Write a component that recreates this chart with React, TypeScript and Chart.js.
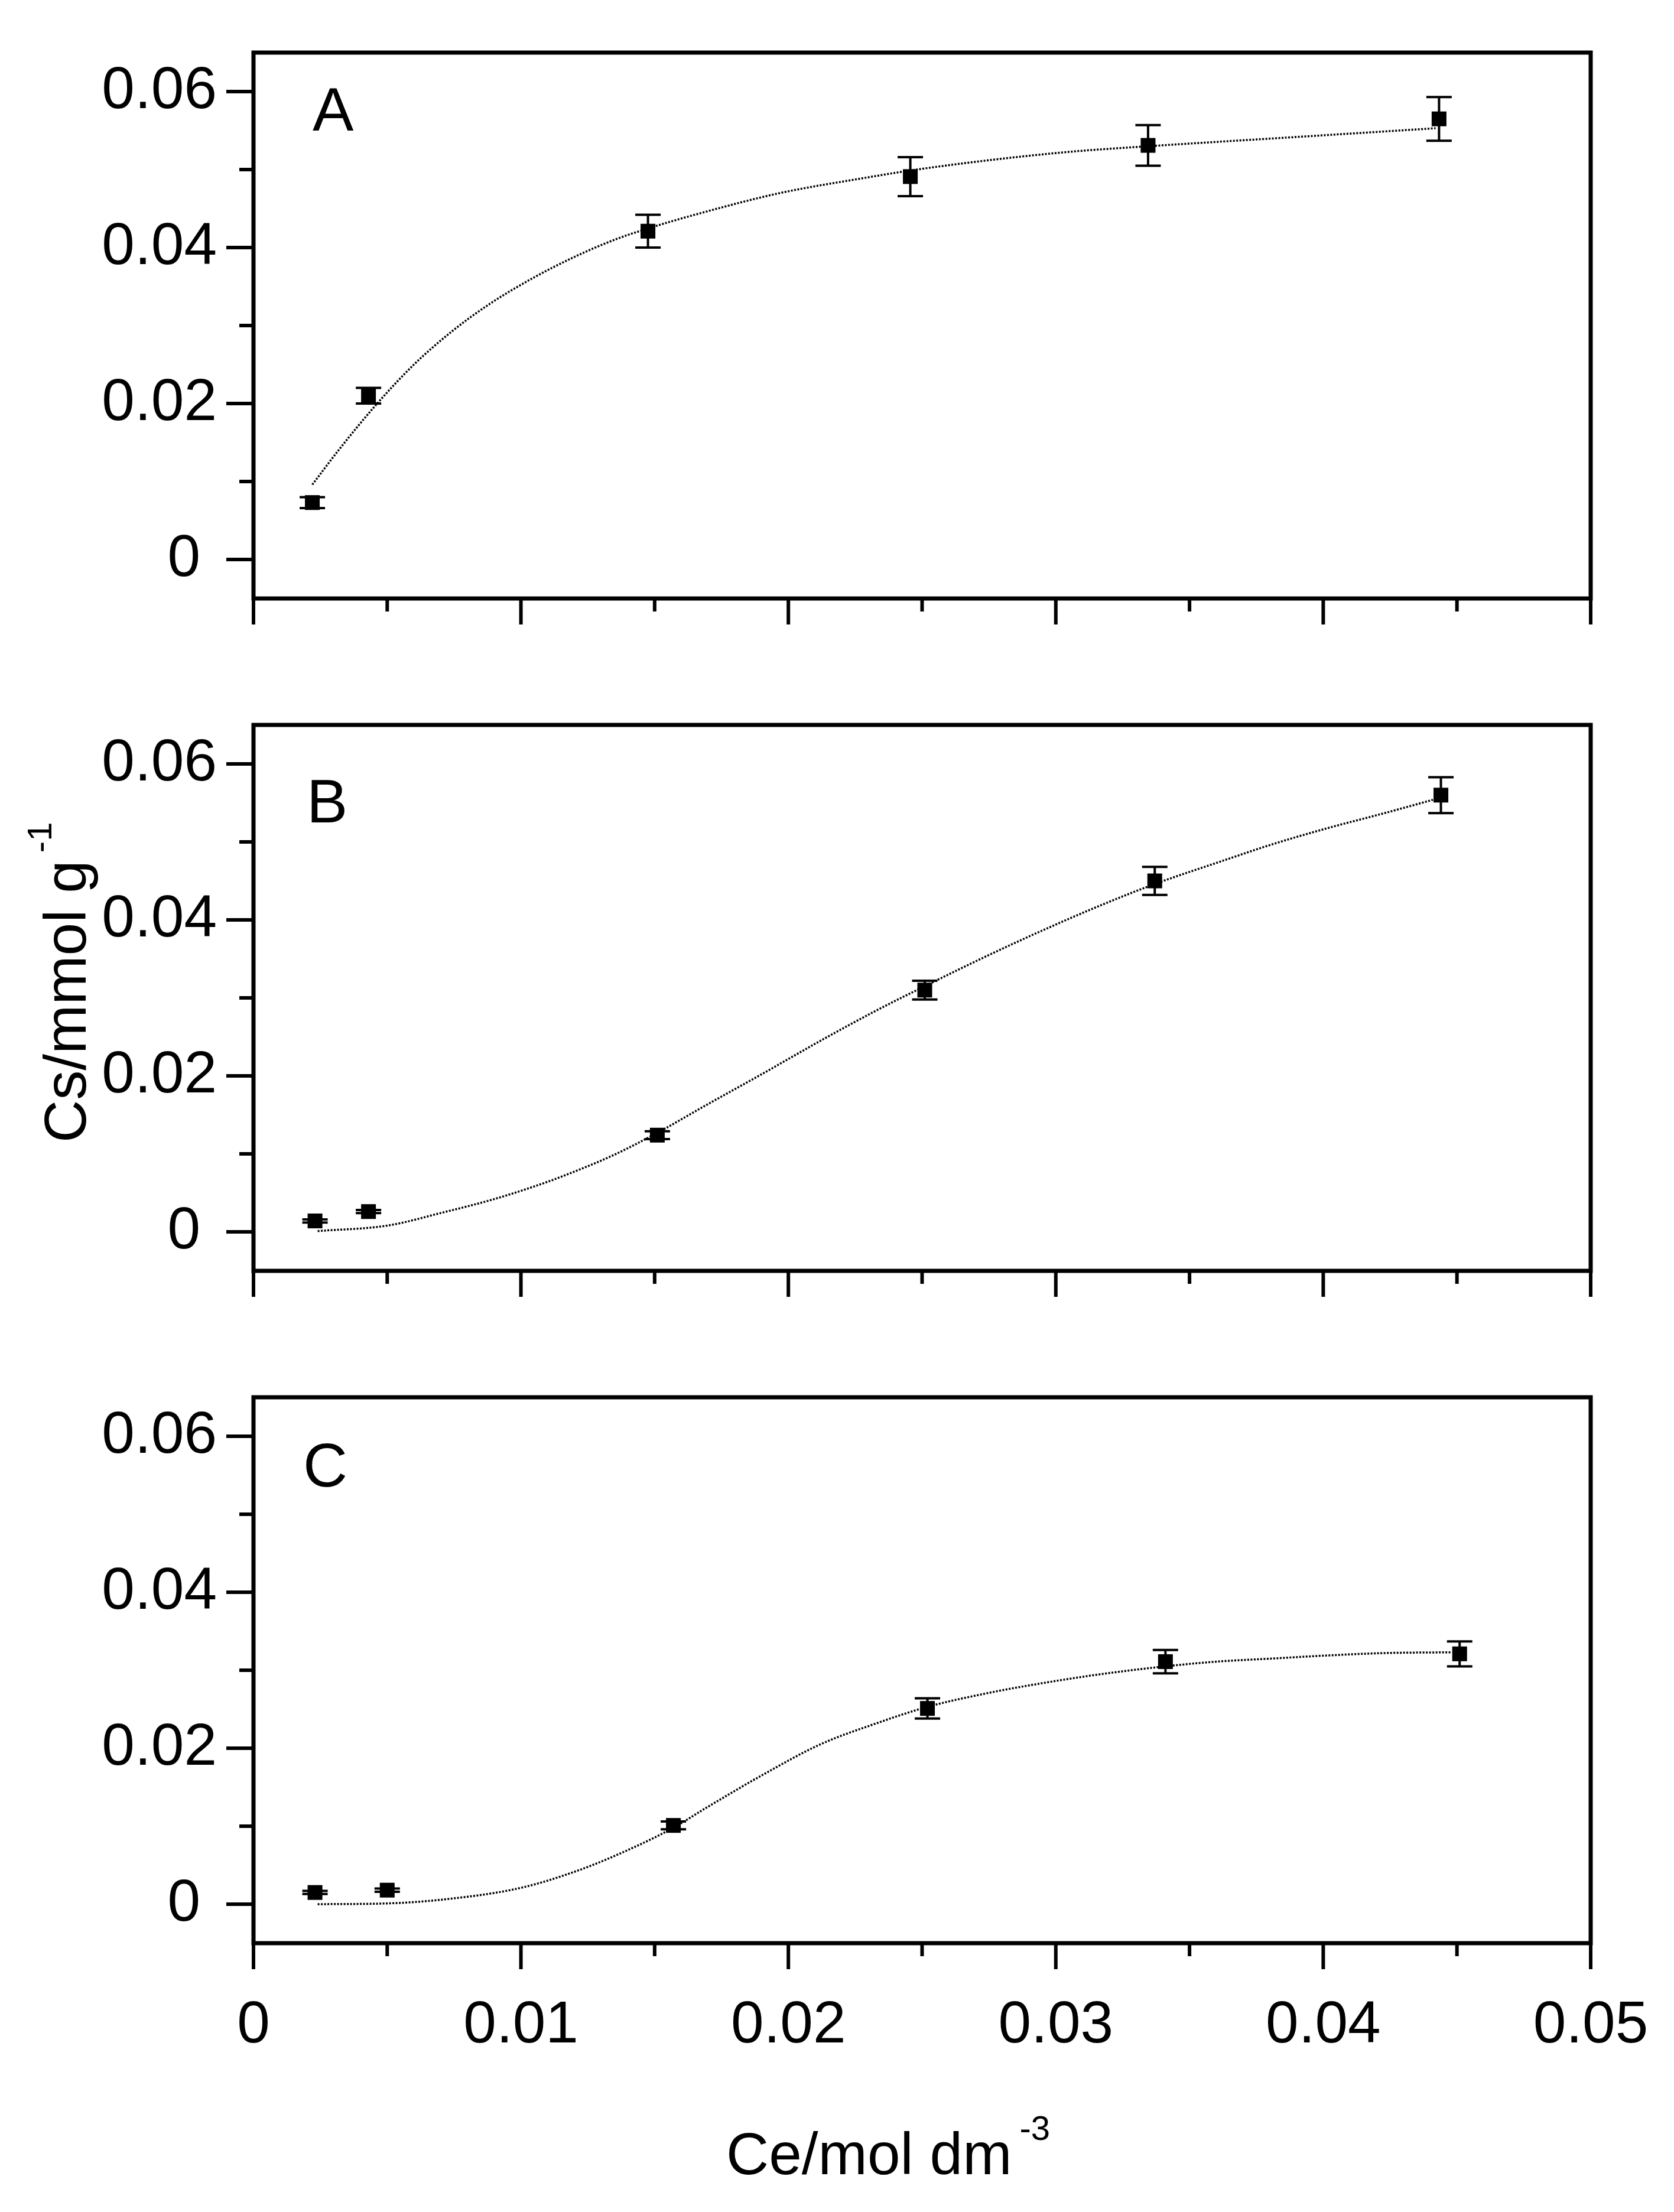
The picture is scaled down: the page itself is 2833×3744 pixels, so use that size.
import React, { useEffect, useRef } from 'react';
import { Chart, registerables } from 'chart.js';

Chart.register(...registerables);

const FONT = '"Liberation Sans", Arial, Helvetica, sans-serif';

// ---------- axis ticks ----------
const xTickValues = [0, 0.01, 0.02, 0.03, 0.04, 0.05];
const xTickLabels = ['0', '0.01', '0.02', '0.03', '0.04', '0.05'];
const xMinorTickValues = [0.005, 0.015, 0.025, 0.035, 0.045];
const yTickValues = [0, 0.02, 0.04, 0.06];
const yTickLabels = ['0 ', '0.02', '0.04', '0.06'];
const yMinorTickValues = [0.01, 0.03, 0.05];

const xTitleMain = 'Ce/mol dm';
const xTitleSup = '-3';
const yTitleMain = 'Cs/mmol g';
const yTitleSup = '-1';

const panelLetters = ['A', 'B', 'C'];

// ---------- panel A ----------
const ceA = [0.0022, 0.0043, 0.01475, 0.02456, 0.03345, 0.04433];
const csA = [0.0073, 0.021, 0.0421, 0.0491, 0.0531, 0.0565];
const errA = [0.0007, 0.001, 0.0021, 0.0025, 0.0026, 0.0028];
const fitCeA = [0.0022, 0.0032, 0.0046, 0.006, 0.0074, 0.0088, 0.0104, 0.012, 0.0135, 0.0148, 0.0166, 0.0197, 0.0228, 0.0246, 0.0275, 0.0306, 0.0335, 0.0391, 0.0442];
const fitCsA = [0.0096, 0.0141, 0.0199, 0.025, 0.0292, 0.0327, 0.036, 0.0388, 0.041, 0.0425, 0.0443, 0.047, 0.0489, 0.0499, 0.0512, 0.0523, 0.053, 0.0542, 0.0553];

// ---------- panel B ----------
const ceB = [0.0023, 0.0043, 0.0151, 0.0251, 0.0337, 0.0444];
const csB = [0.0014, 0.0026, 0.0124, 0.031, 0.045, 0.056];
const errB = [0.0002, 0.0002, 0.0005, 0.0012, 0.0018, 0.0023];
const fitCeB = [0.0024, 0.005, 0.0071, 0.009, 0.0109, 0.0122, 0.0135, 0.0151, 0.0169, 0.0191, 0.0212, 0.0233, 0.0251, 0.0275, 0.0296, 0.0317, 0.0337, 0.036, 0.0381, 0.0402, 0.0423, 0.0441];
const fitCsB = [0.0001, 0.0008, 0.0025, 0.0042, 0.0063, 0.008, 0.0099, 0.0127, 0.0162, 0.0204, 0.0245, 0.0284, 0.0315, 0.0355, 0.0388, 0.0419, 0.0446, 0.0473, 0.0497, 0.0518, 0.0537, 0.0554];

// ---------- panel C ----------
const ceC = [0.0023, 0.005, 0.0157, 0.0252, 0.0341, 0.0451];
const csC = [0.0015, 0.0018, 0.0101, 0.0251, 0.0311, 0.0321];
const errC = [0.0002, 0.0002, 0.0005, 0.0013, 0.0015, 0.0016];
const fitCeC = [0.0024, 0.005, 0.0071, 0.01, 0.0122, 0.0141, 0.0157, 0.0169, 0.0191, 0.0212, 0.0233, 0.0252, 0.0275, 0.0296, 0.0317, 0.0341, 0.036, 0.0381, 0.0402, 0.0423, 0.0448];
const fitCsC = [0.0, 0.0001, 0.0006, 0.0021, 0.0044, 0.0071, 0.0098, 0.0123, 0.0167, 0.0205, 0.0232, 0.0253, 0.0271, 0.0284, 0.0295, 0.0305, 0.0311, 0.0315, 0.0319, 0.0322, 0.0323];

// ---------- layout (pixels) ----------
const PAGE_W = 2833;
const PANEL_TOPS = [0, 1138, 2276];
const PANEL_HEIGHTS = [1138, 1138, 1468];
const AREA_TOP = 89;
const AREA_BOTTOM = 1013;
const AREA_LEFT = 429;
const AREA_RIGHT = 2692;
const LETTER_POS = [
  [529, 221],
  [519, 254],
  [513, 240],
];

type Panel = {
  idx: number;
  ce: number[];
  cs: number[];
  err: number[];
  fitCe: number[];
  fitCs: number[];
};

const panels: Panel[] = [
  { idx: 0, ce: ceA, cs: csA, err: errA, fitCe: fitCeA, fitCs: fitCsA },
  { idx: 1, ce: ceB, cs: csB, err: errB, fitCe: fitCeB, fitCs: fitCsB },
  { idx: 2, ce: ceC, cs: csC, err: errC, fitCe: fitCeC, fitCs: fitCsC },
];

function makePlugin(p: Panel) {
  return {
    id: 'decor' + p.idx,
    beforeDatasetsDraw(chart: any) {
      const { ctx, scales } = chart;
      const x = scales.x;
      const y = scales.y;
      ctx.save();
      ctx.strokeStyle = '#000';
      ctx.lineWidth = 4;
      ctx.beginPath();
      p.ce.forEach((c, i) => {
        const px = x.getPixelForValue(c);
        const t = y.getPixelForValue(p.cs[i] + p.err[i]);
        const b = y.getPixelForValue(p.cs[i] - p.err[i]);
        ctx.moveTo(px, t);
        ctx.lineTo(px, b);
        ctx.moveTo(px - 21.5, t);
        ctx.lineTo(px + 21.5, t);
        ctx.moveTo(px - 21.5, b);
        ctx.lineTo(px + 21.5, b);
      });
      ctx.stroke();
      ctx.restore();
    },
    afterDraw(chart: any) {
      const { ctx, chartArea: a, scales } = chart;
      const x = scales.x;
      const y = scales.y;
      ctx.save();
      ctx.strokeStyle = '#000';
      ctx.fillStyle = '#000';
      ctx.lineWidth = 7;
      ctx.lineJoin = 'miter';
      ctx.strokeRect(a.left, a.top, a.right - a.left, a.bottom - a.top);
      ctx.lineWidth = 6;
      ctx.beginPath();
      yTickValues.forEach((v) => {
        const py = y.getPixelForValue(v);
        ctx.moveTo(a.left, py);
        ctx.lineTo(a.left - 46, py);
      });
      yMinorTickValues.forEach((v) => {
        const py = y.getPixelForValue(v);
        ctx.moveTo(a.left, py);
        ctx.lineTo(a.left - 24, py);
      });
      xTickValues.forEach((v) => {
        const px = x.getPixelForValue(v);
        ctx.moveTo(px, a.bottom);
        ctx.lineTo(px, a.bottom + 44);
      });
      xMinorTickValues.forEach((v) => {
        const px = x.getPixelForValue(v);
        ctx.moveTo(px, a.bottom);
        ctx.lineTo(px, a.bottom + 22);
      });
      ctx.stroke();

      // panel letter
      ctx.font = `104px ${FONT}`;
      ctx.textAlign = 'left';
      ctx.textBaseline = 'alphabetic';
      const [lx, ly] = LETTER_POS[p.idx];
      ctx.fillText(panelLetters[p.idx], lx, ly);

      // y title (middle panel)
      if (p.idx === 1) {
        ctx.save();
        ctx.translate(145, 1934 - PANEL_TOPS[1]);
        ctx.rotate(-Math.PI / 2);
        ctx.font = `100px ${FONT}`;
        ctx.fillText(yTitleMain, 0, 0);
        const w = ctx.measureText(yTitleMain).width;
        ctx.font = `58px ${FONT}`;
        ctx.fillText(yTitleSup, w + 13, -58);
        ctx.restore();
      }
      // x title (bottom panel)
      if (p.idx === 2) {
        const bx = 1229;
        const by = 3680 - PANEL_TOPS[2];
        ctx.font = `100px ${FONT}`;
        ctx.fillText(xTitleMain, bx, by);
        const w = ctx.measureText(xTitleMain).width;
        ctx.font = `58px ${FONT}`;
        ctx.fillText(xTitleSup, bx + w + 13, by - 58);
      }
      ctx.restore();
    },
  };
}

function makeConfig(p: Panel): any {
  const showX = p.idx === 2;
  const h = PANEL_HEIGHTS[p.idx];
  return {
    type: 'scatter',
    data: {
      datasets: [
        {
          type: 'scatter',
          data: p.ce.map((c, i) => ({ x: c, y: p.cs[i] })),
          pointStyle: 'rect',
          pointRadius: 17.7,
          pointHoverRadius: 17.7,
          backgroundColor: '#000',
          borderColor: '#000',
          borderWidth: 0,
          order: 0,
        },
        {
          type: 'line',
          data: p.fitCe.map((c, i) => ({ x: c, y: p.fitCs[i] })),
          borderColor: '#000',
          borderWidth: 3.5,
          borderDash: [3, 2.5],
          pointRadius: 0,
          fill: false,
          cubicInterpolationMode: 'monotone',
          order: 1,
        },
      ],
    },
    options: {
      animation: false,
      responsive: false,
      devicePixelRatio: 1,
      events: [],
      layout: {
        padding: { top: AREA_TOP, left: 0, right: PAGE_W - AREA_RIGHT, bottom: 0 },
      },
      plugins: {
        legend: { display: false },
        tooltip: { enabled: false },
        title: { display: false },
      },
      scales: {
        x: {
          type: 'linear',
          position: 'bottom',
          min: 0,
          max: 0.05,
          grid: { display: false, drawTicks: false },
          border: { display: false },
          ticks: {
            display: showX,
            autoSkip: false,
            maxRotation: 0,
            minRotation: 0,
            padding: 80,
            color: '#000',
            font: { family: FONT, size: 100 },
            callback: (_v: any, i: number) => xTickLabels[i],
          },
          afterBuildTicks: (s: any) => {
            s.ticks = xTickValues.map((v) => ({ value: v }));
          },
          afterFit: (s: any) => {
            s.height = h - AREA_BOTTOM;
            s.paddingLeft = 0;
            s.paddingRight = 0;
            s.paddingTop = 0;
            s.paddingBottom = 0;
          },
        },
        y: {
          type: 'linear',
          position: 'left',
          min: -0.005,
          max: 0.065,
          grid: { display: false, drawTicks: false },
          border: { display: false },
          ticks: {
            autoSkip: false,
            padding: 62,
            color: '#000',
            font: { family: FONT, size: 100 },
            callback: (_v: any, i: number) => yTickLabels[i],
          },
          afterBuildTicks: (s: any) => {
            s.ticks = yTickValues.map((v) => ({ value: v }));
          },
          afterFit: (s: any) => {
            s.width = AREA_LEFT;
            s.paddingLeft = 0;
            s.paddingRight = 0;
            s.paddingTop = 0;
            s.paddingBottom = 0;
          },
        },
      },
    },
    plugins: [makePlugin(p)],
  };
}

export default function App() {
  const r0 = useRef<HTMLCanvasElement>(null);
  const r1 = useRef<HTMLCanvasElement>(null);
  const r2 = useRef<HTMLCanvasElement>(null);
  const refs = [r0, r1, r2];

  useEffect(() => {
    const charts = panels.map((p, i) => new Chart(refs[i].current as HTMLCanvasElement, makeConfig(p)));
    return () => charts.forEach((c) => c.destroy());
  }, []);

  return (
    <div style={{ position: 'absolute', left: 0, top: 0, width: PAGE_W, height: 3744, background: '#fff', overflow: 'hidden' }}>
      {panels.map((p, i) => (
        <canvas
          key={i}
          ref={refs[i]}
          width={PAGE_W}
          height={PANEL_HEIGHTS[i]}
          style={{ position: 'absolute', left: 0, top: PANEL_TOPS[i], width: PAGE_W, height: PANEL_HEIGHTS[i], display: 'block' }}
        />
      ))}
    </div>
  );
}
